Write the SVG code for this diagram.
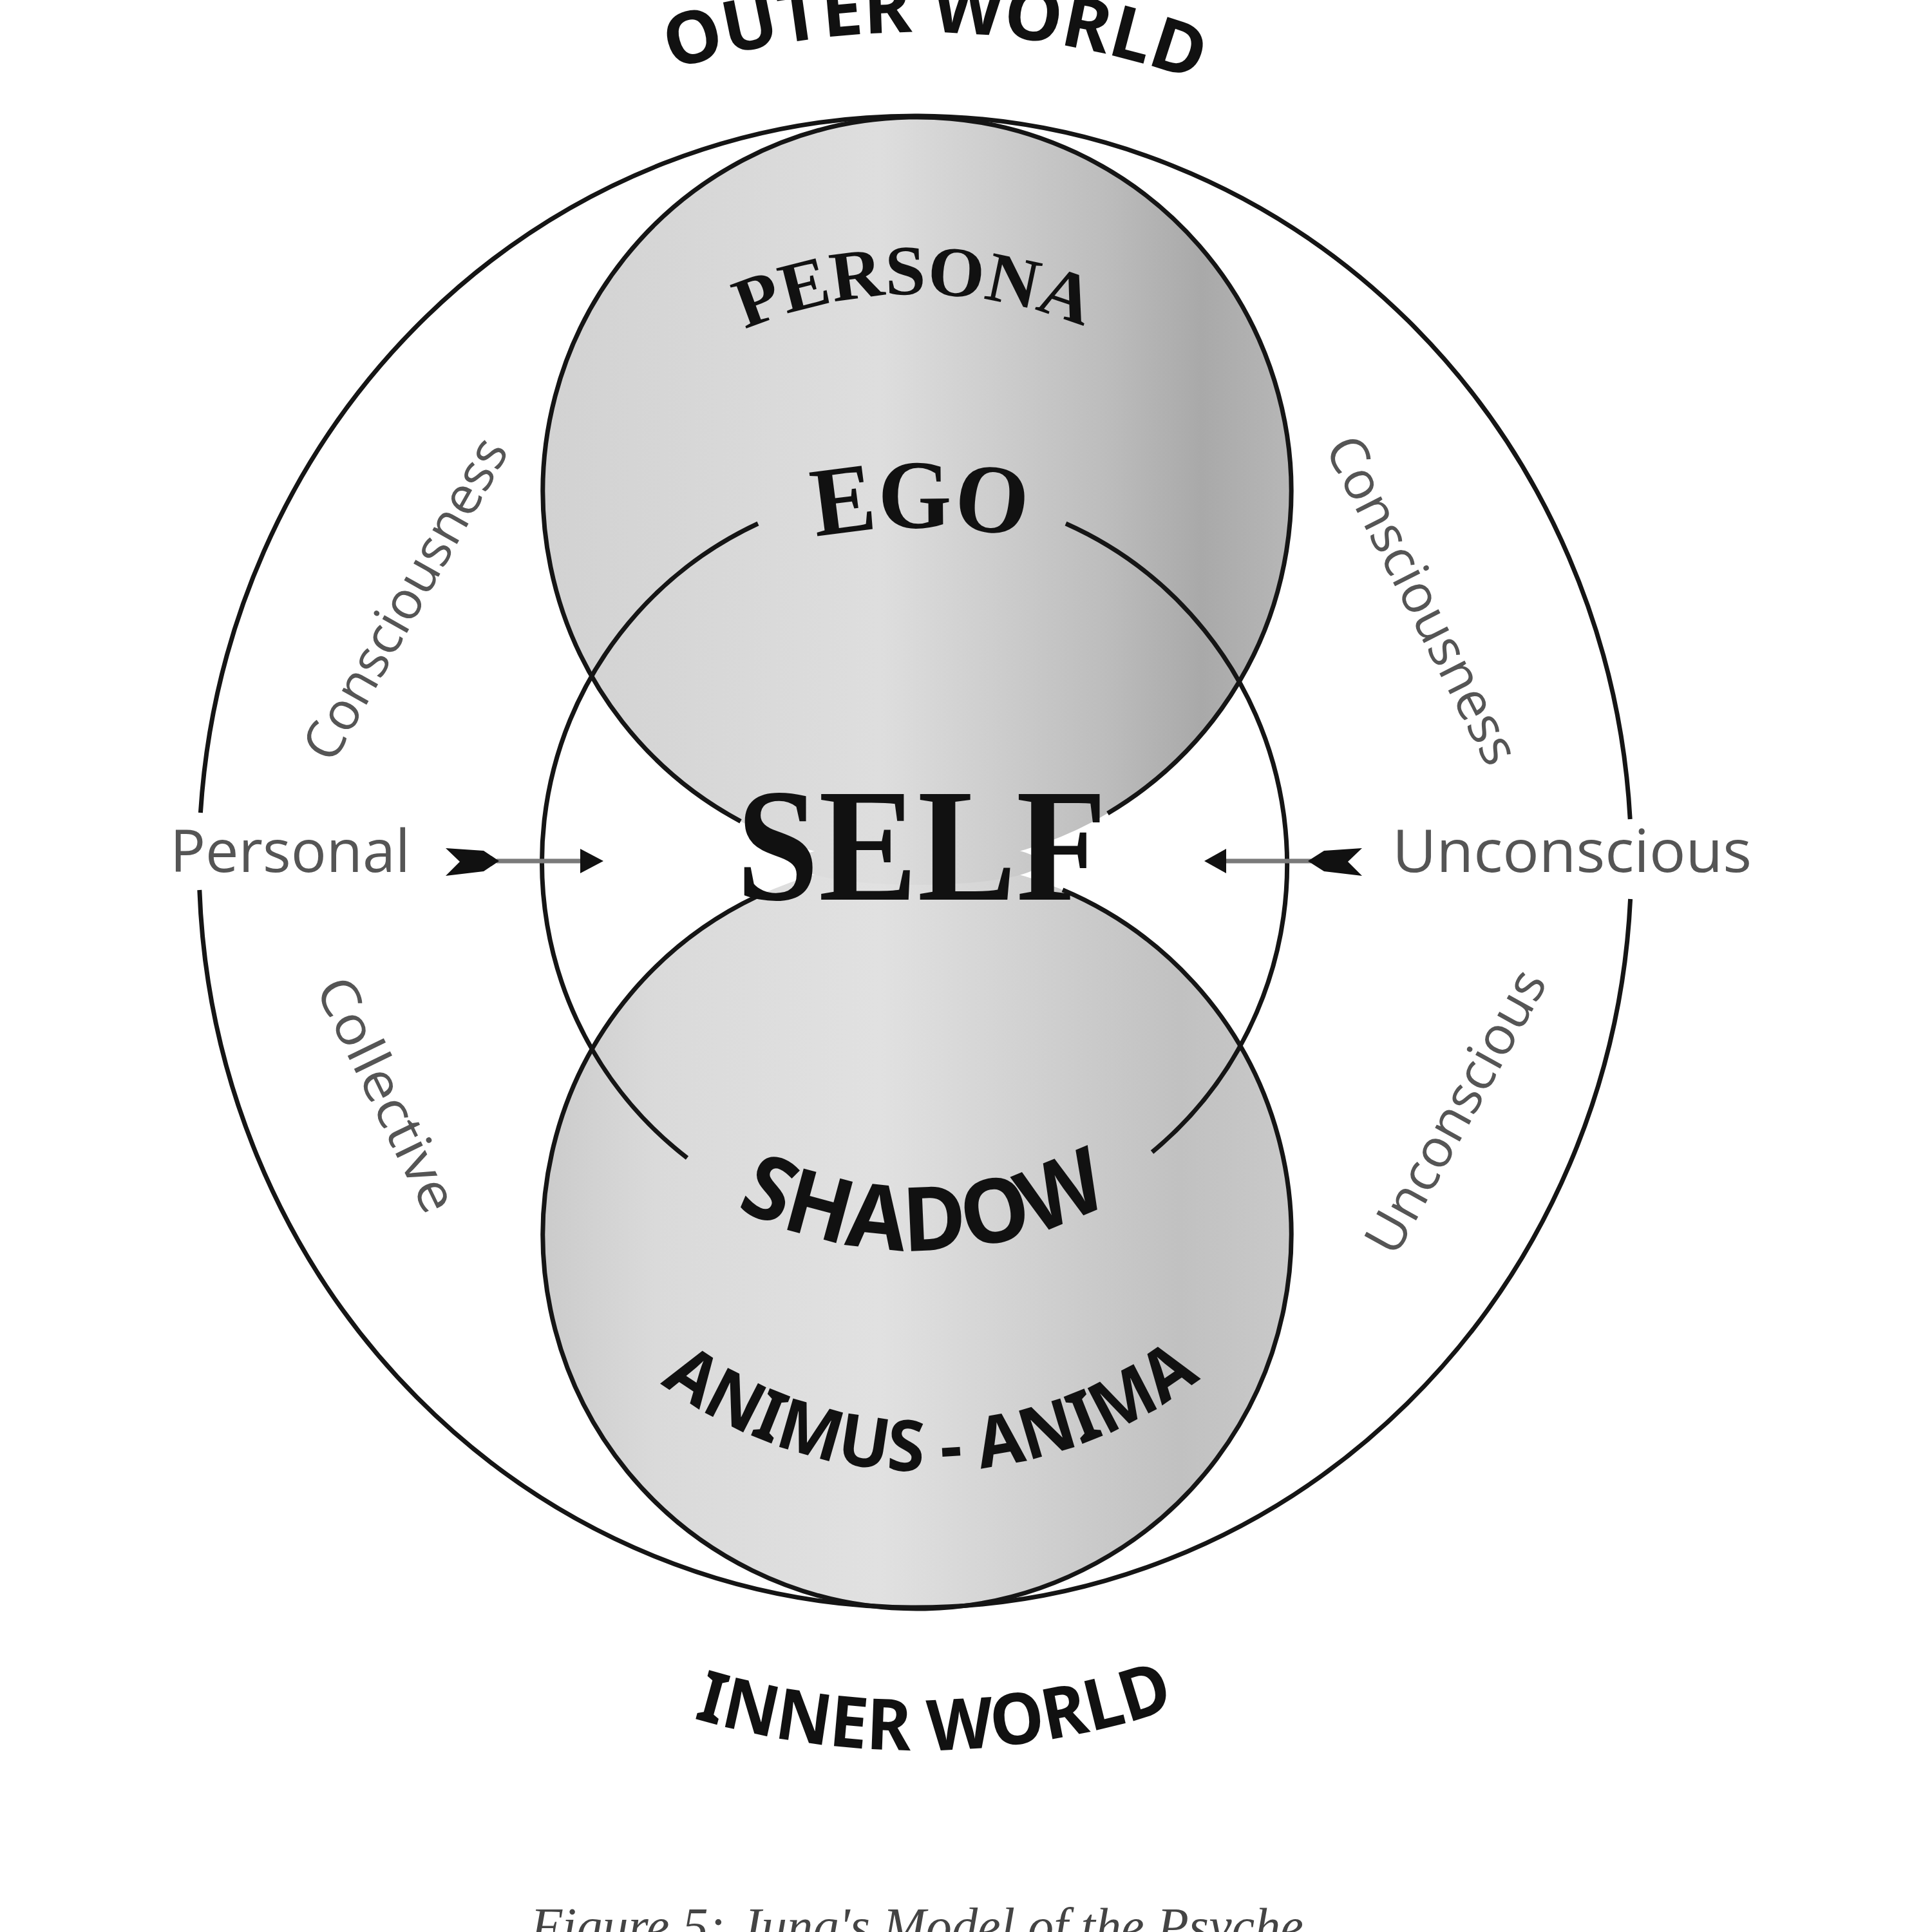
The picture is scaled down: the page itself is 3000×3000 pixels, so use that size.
<svg xmlns="http://www.w3.org/2000/svg" xmlns:xlink="http://www.w3.org/1999/xlink" width="3000" height="3000" viewBox="0 0 3000 3000">
<style>
.ln{fill:none;stroke:#151515;stroke-width:7}
.serif{font-family:"Liberation Serif",serif;font-weight:bold;fill:#111}
.sans{font-family:"Noto Sans","Open Sans",sans-serif;font-weight:700;fill:#111}
.lbl{font-family:"Open Sans","Noto Sans",sans-serif;fill:#555555}
.arrline{stroke:#7a7a7a;stroke-width:7}
.arrhead{fill:#111}
</style>
<defs>
<linearGradient id="gTop" gradientUnits="userSpaceOnUse" x1="843" y1="0" x2="2005" y2="0">
<stop offset="0" stop-color="#d2d2d2"/>
<stop offset="0.2" stop-color="#d7d7d7"/>
<stop offset="0.45" stop-color="#dedede"/>
<stop offset="0.58" stop-color="#d0d0d0"/>
<stop offset="0.75" stop-color="#bdbdbd"/>
<stop offset="0.88" stop-color="#a9a9a9"/>
<stop offset="1" stop-color="#b7b7b7"/>
</linearGradient>
<linearGradient id="gBot" gradientUnits="userSpaceOnUse" x1="843" y1="0" x2="2005" y2="0">
<stop offset="0" stop-color="#cbcbcb"/>
<stop offset="0.15" stop-color="#dadada"/>
<stop offset="0.45" stop-color="#e1e1e1"/>
<stop offset="0.6" stop-color="#d5d5d5"/>
<stop offset="0.85" stop-color="#c1c1c1"/>
<stop offset="1" stop-color="#c9c9c9"/>
</linearGradient>
<path id="pOuter" d="M 785 221.5 A 1280 1280 0 0 1 2065 221.5"/>
<path id="pPersona" d="M 985 617 A 685 685 0 0 1 1865 617"/>
<path id="pEgo" d="M 1129 871 A 898 898 0 0 1 1729 871"/>
<path id="pShadow" d="M 1019 1794 A 632 632 0 0 0 1831 1794"/>
<path id="pAnimus" d="M 908 2037 A 695 695 0 0 0 1972 2037"/>
<path id="pInner" d="M 804.5 2551.7 A 1241 1241 0 0 0 2045.5 2551.7"/>
</defs>
<rect width="3000" height="3000" fill="#ffffff"/>

<g id="persona-circle">
<circle cx="1424" cy="763" r="581" fill="url(#gTop)"/>
</g>
<g id="shadow-circle">
<circle cx="1424" cy="1917" r="581" fill="url(#gBot)"/>
</g>
<ellipse id="self-backdrop" cx="1425" cy="1340" rx="190" ry="34" fill="url(#gTop)"/>

<g id="outlines">
<path id="outer-world-ellipse" class="ln" stroke-width="6" d="M 311.4 1262 A 1112 1158 0 0 1 2531.2 1272 M 2531.6 1396 A 1112 1158 0 0 1 309.8 1382"/>
<path id="top-circle-outline" class="ln" d="M 1150 1275.3 A 581 581 0 1 1 1720 1262.9"/>
<path id="bottom-circle-outline" class="ln" d="M 1175 1392.1 A 581 581 0 1 0 1650 1381.8"/>
<path id="self-circle" class="ln" stroke-width="8" d="M 1655 813 A 580 580 0 0 1 1789 1789 M 1067 1798 A 580 580 0 0 1 1177 813"/>
</g>

<g id="connectors">
<g id="arrow-left">
<line class="arrline" x1="771" y1="1337" x2="906" y2="1337"/>
<polygon class="arrhead" points="937,1337 901,1318 901,1356"/>
<polygon class="arrhead" points="692,1317 751,1321 775,1337 751,1353 692,1360 714,1338"/>
</g>
<g id="arrow-right">
<line class="arrline" x1="1900" y1="1337" x2="2036" y2="1337"/>
<polygon class="arrhead" points="1870,1337 1904,1318 1904,1356"/>
<polygon class="arrhead" points="2115,1317 2056,1321 2031,1337 2056,1353 2115,1360 2093,1338"/>
</g>
</g>

<g id="label-outer-world">
<text class="sans" font-size="112" text-anchor="middle"><textPath href="#pOuter" startOffset="697" textLength="830" lengthAdjust="spacingAndGlyphs">OUTER WORLD</textPath></text>
</g>
<g id="label-persona">
<text class="serif" font-size="110" text-anchor="middle"><textPath href="#pPersona" startOffset="472" textLength="540" lengthAdjust="spacingAndGlyphs">PERSONA</textPath></text>
</g>
<g id="label-ego">
<text class="serif" font-size="152" text-anchor="middle"><textPath href="#pEgo" startOffset="50%" textLength="326" lengthAdjust="spacingAndGlyphs">EGO</textPath></text>
</g>
<g id="label-self">
<text class="serif" x="1431" y="1397" font-size="250" text-anchor="middle" textLength="575" lengthAdjust="spacingAndGlyphs">SELF</text>
</g>
<g id="label-shadow">
<text class="sans" font-size="138" text-anchor="middle"><textPath href="#pShadow" startOffset="451" textLength="605" lengthAdjust="spacingAndGlyphs">SHADOW</textPath></text>
</g>
<g id="label-animus-anima">
<text class="sans" font-size="110" text-anchor="middle"><textPath href="#pAnimus" startOffset="612" textLength="900" lengthAdjust="spacingAndGlyphs">ANIMUS - ANIMA</textPath></text>
</g>
<g id="label-inner-world">
<text class="sans" font-size="110" text-anchor="middle"><textPath href="#pInner" startOffset="677" textLength="760" lengthAdjust="spacingAndGlyphs">INNER WORLD</textPath></text>
</g>

<g id="label-personal">
<text class="lbl" x="264" y="1354" font-size="92" textLength="373" lengthAdjust="spacingAndGlyphs">Personal</text>
</g>
<g id="label-unconscious">
<text class="lbl" x="2162" y="1354" font-size="92" textLength="558" lengthAdjust="spacingAndGlyphs">Unconscious</text>
</g>
<g id="label-consciousness-left">
<text class="lbl" x="0" y="0" font-size="82" text-anchor="middle" dominant-baseline="central" textLength="560" lengthAdjust="spacingAndGlyphs" transform="translate(626 928) rotate(-60.6)">Consciousness</text>
</g>
<g id="label-consciousness-right">
<text class="lbl" x="0" y="0" font-size="82" text-anchor="middle" dominant-baseline="central" textLength="560" lengthAdjust="spacingAndGlyphs" transform="translate(2212 930) rotate(63)">Consciousness</text>
</g>
<g id="label-collective">
<text class="lbl" x="0" y="0" font-size="82" text-anchor="middle" dominant-baseline="central" textLength="395" lengthAdjust="spacingAndGlyphs" transform="translate(604 1698) rotate(64)">Collective</text>
</g>
<g id="label-unconscious-lower">
<text class="lbl" x="0" y="0" font-size="82" text-anchor="middle" dominant-baseline="central" textLength="490" lengthAdjust="spacingAndGlyphs" transform="translate(2257 1724) rotate(-61)">Unconscious</text>
</g>

<g id="caption">
<text x="1424" y="3018" font-family="Liberation Serif, serif" font-style="italic" font-size="80" fill="#444" text-anchor="middle" textLength="1200" lengthAdjust="spacingAndGlyphs">Figure 5: Jung's Model of the Psyche</text>
</g>
</svg>
